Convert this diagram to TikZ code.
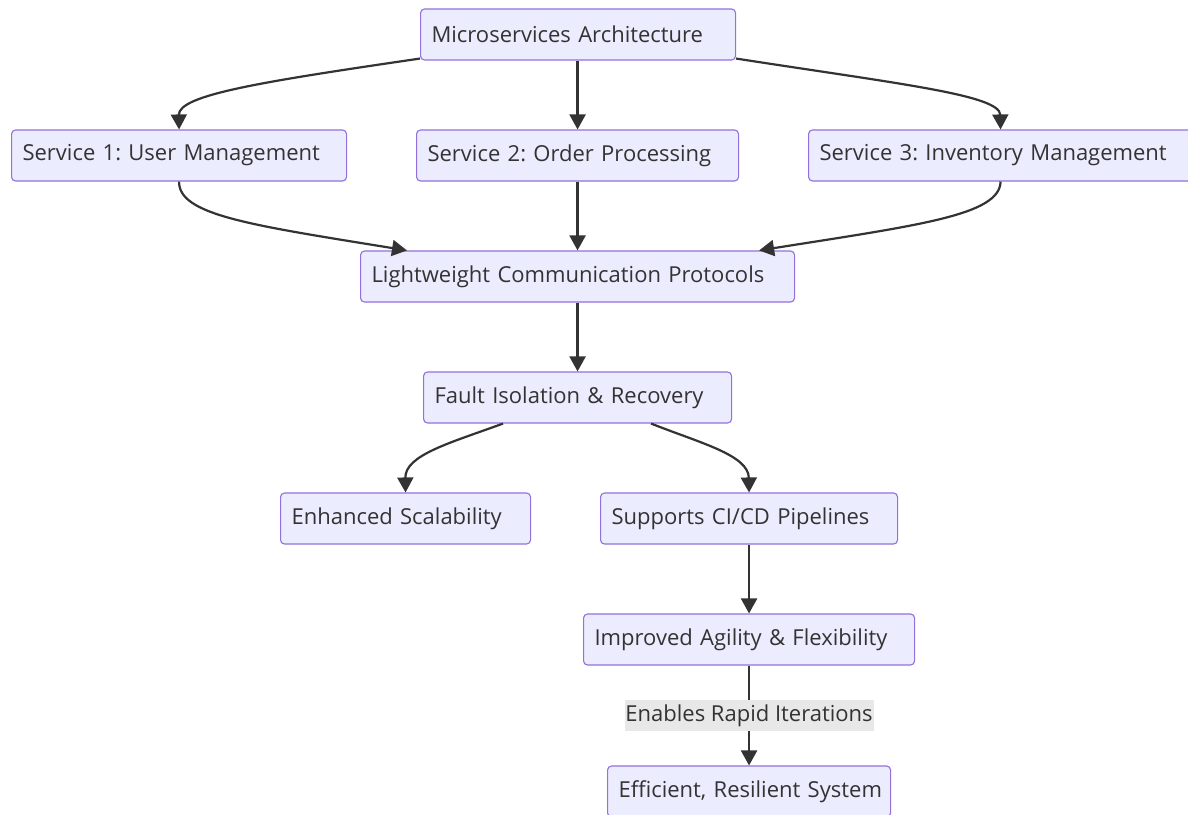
\documentclass[tikz,border=0pt]{standalone}
\usepackage{fontspec}
\setmainfont{Open Sans}
\usetikzlibrary{arrows.meta,calc}
\definecolor{boxfill}{HTML}{ECECFF}
\definecolor{boxline}{HTML}{9370DB}
\definecolor{edgecol}{HTML}{333333}
\definecolor{txt}{HTML}{333333}
\definecolor{lblbg}{HTML}{E8E8E8}
\frenchspacing
\begin{document}
\begin{tikzpicture}[x=1pt,y=-1pt,
  box/.style={draw=boxline, fill=boxfill, rounded corners=4pt, line width=1.1pt,
    minimum height=51pt, inner xsep=11pt, inner ysep=0pt, anchor=west, align=left,
    text=txt, font=\fontsize{22}{26}\selectfont},
  edge/.style={draw=edgecol, line width=2.2pt, -{Triangle[length=15pt,width=16pt]}},
  lbl/.style={fill=lblbg, text=txt, inner sep=0pt, minimum width=249pt, minimum height=31pt,
    font=\fontsize{22}{26}\selectfont}]
\useasboundingbox (0,0) rectangle (1188,814);
\fill[white] (0,0) rectangle (1188,814);
\node[box, text width=293pt] (m) at (420,34.5) {\mbox{Microservices Architecture}};
\node[box, text width=313pt] (s1) at (11,155.5) {\mbox{Service 1: User Management}};
\node[box, text width=300pt] (s2) at (416,155.5) {\mbox{Service 2: Order Processing}};
\node[box, text width=362pt] (s3) at (808,155.5) {\mbox{Service 3: Inventory Management}};
\node[box, text width=412pt] (l) at (360,276.5) {\mbox{Lightweight Communication Protocols}};
\node[box, text width=286pt] (f) at (423,397.5) {\mbox{Fault Isolation \& Recovery}};
\node[box, text width=228pt] (e) at (280,518.5) {\mbox{Enhanced Scalability}};
\node[box, text width=275pt] (c) at (600,518.5) {\mbox{Supports CI/CD Pipelines}};
\node[box, text width=309pt] (i) at (583,639.5) {\mbox{Improved Agility \& Flexibility}};
\node[box, text width=261pt] (r) at (607,791.5) {\mbox{Efficient, Resilient System}};
\draw[edge] ([yshift=2pt]m.south west) .. controls (260,82) and (178.5,95) .. (s1.north);
\draw[edge] (m.south -| s2.north) -- (s2.north);
\draw[edge] ([yshift=2pt]m.south east) .. controls (900,84) and (1000,95) .. (s3.north);
\draw[edge] (s1.south) .. controls (178.5,215) and (250,225) .. ([xshift=47pt]l.north west);
\draw[edge] (s2.south) -- (s2.south |- l.north);
\draw[edge] (s3.south) .. controls (1000,215) and (920,225) .. ([xshift=-36pt]l.north east);
\draw[edge] (l.south -| f.north) -- (f.north);
\draw[edge] ([xshift=80pt]f.south west) .. controls (450,443) and (405,455) .. (e.north);
\draw[edge] ([xshift=-81pt]f.south east) .. controls (700,443) and (748.5,455) .. (c.north);
\draw[edge] (c.south) -- (c.south |- i.north);
\draw[edge] (i.south) -- node[lbl] (lb) {Enables Rapid Iterations} (i.south |- r.north);
\end{tikzpicture}
\end{document}
